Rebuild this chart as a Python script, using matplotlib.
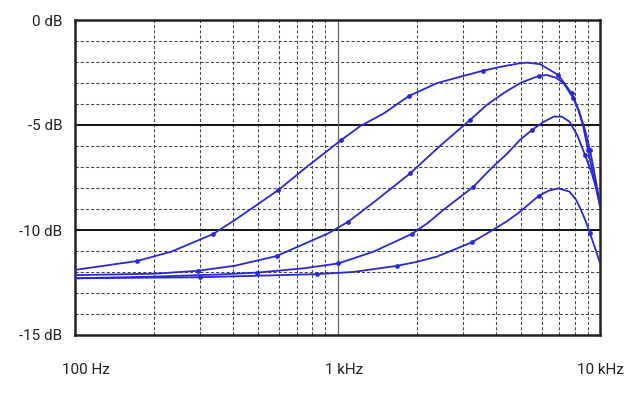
import matplotlib.pyplot as plt
import matplotlib.transforms as mtransforms
from matplotlib.ticker import LogLocator, NullFormatter

# frequency response curves (Hz, dB)
freq1 = [100, 172, 233, 336, 407, 595, 752, 1035, 1222, 1500, 1870, 2388, 2900, 3593, 4300,
         4958, 5257, 5907, 6938, 7800, 8300, 8770, 9160, 9500, 9850, 10000]
gain1 = [-11.9, -11.48, -11.03, -10.19, -9.52, -8.1, -7.06, -5.71, -5.05, -4.45, -3.62, -3.01,
         -2.72, -2.41, -2.2, -2.06, -2.03, -2.10, -2.62, -3.49, -4.3, -5.24, -6.19, -7.2, -8.3, -8.8]
mark1 = [1, 3, 5, 7, 10, 13, 18, 19, 22]

freq2 = [100, 202, 295, 407, 586, 922, 1100, 1400, 1893, 2440, 3200, 3700, 4282, 5000, 5833,
         6270, 6800, 7280, 7914, 8300, 8640, 9000, 9500, 10000]
gain2 = [-12.15, -12.08, -11.94, -11.7, -11.24, -10.16, -9.6, -8.6, -7.3, -6.03, -4.76, -4.05,
         -3.49, -2.98, -2.67, -2.62, -2.75, -3.02, -3.73, -4.35, -5.08, -6.19, -7.6, -8.85]
mark2 = [2, 4, 6, 8, 10, 14, 18, 21]

freq3 = [100, 200, 350, 493, 750, 1008, 1373, 1917, 2200, 2528, 3295, 3855, 4400, 4958, 5495,
         6100, 6675, 7150, 7650, 8200, 8770, 9300, 9720, 10000]
gain3 = [-12.3, -12.22, -12.12, -12.03, -11.82, -11.59, -11.03, -10.19, -9.68, -9.05, -7.94,
         -7.06, -6.4, -5.71, -5.24, -4.85, -4.6, -4.6, -4.84, -5.5, -6.43, -7.3, -8.1, -8.85]
mark3 = [3, 5, 7, 10, 14, 20]

freq4 = [100, 300, 600, 833, 1146, 1678, 2000, 2388, 3245, 3808, 4400, 4958, 5833, 6400, 6938,
         7650, 8100, 8430, 8800, 9160, 9600, 10000]
gain4 = [-12.3, -12.25, -12.15, -12.1, -12.0, -11.71, -11.52, -11.27, -10.59, -10.08, -9.6,
         -9.13, -8.38, -8.12, -8.02, -8.17, -8.55, -9.0, -9.55, -10.16, -10.9, -11.57]
mark4 = [1, 3, 5, 8, 12, 19]

series = [(freq1, gain1, mark1), (freq2, gain2, mark2),
          (freq3, gain3, mark3), (freq4, gain4, mark4)]

ytick_vals = [0, -5, -10, -15]
ytick_text = ["0 dB", "-5 dB", "-10 dB", "-15 dB"]
xtick_vals = [100, 1000, 10000]
xtick_text = ["100 Hz", "1 kHz", "10 kHz"]
xlabel_shift = [11, 7, 0]  # pixels

plt.rcParams["font.family"] = ["Roboto", "DejaVu Sans"]

fig = plt.figure(figsize=(6.36, 3.94), dpi=100)
ax = fig.add_axes([75 / 636, 1 - 335 / 394, 525 / 636, 315 / 394])

for f, g, m in series:
    ax.plot(f, g, color="#2828d8", lw=1.3, marker="o", ms=2.4,
            markevery=m, zorder=3)

ax.set_xscale("log")
ax.set_xlim(100, 10000)
ax.set_ylim(-15, 0)

# grid: dashed minor lines, solid lines at -5/-10 dB and 1 kHz
ax.xaxis.set_minor_locator(LogLocator(base=10, subs=range(2, 10)))
ax.xaxis.set_minor_formatter(NullFormatter())
ax.set_yticks(range(-15, 1), minor=True)
ax.grid(which="minor", axis="both", color="#444444", ls=(0, (3, 2)), lw=0.75)
for y in [-5, -10]:
    ax.axhline(y, color="#111111", lw=1.4, zorder=2)
ax.axvline(1000, color="#666666", lw=0.9, zorder=2)

ax.set_yticks(ytick_vals)
ax.set_yticklabels(ytick_text)
ax.set_xticks(xtick_vals)
ax.set_xticklabels(xtick_text)
ax.tick_params(which="both", length=0)
ax.tick_params(axis="y", pad=9, labelsize=11, colors="#222222")
ax.tick_params(axis="x", pad=20, labelsize=11, colors="#222222")
for lbl, dx in zip(ax.get_xticklabels(), xlabel_shift):
    lbl.set_transform(lbl.get_transform() +
                      mtransforms.ScaledTranslation(dx / 100, 0, fig.dpi_scale_trans))

for s in ax.spines.values():
    s.set_linewidth(1.8)
    s.set_color("#222222")

fig.savefig("out.png", dpi=100)
